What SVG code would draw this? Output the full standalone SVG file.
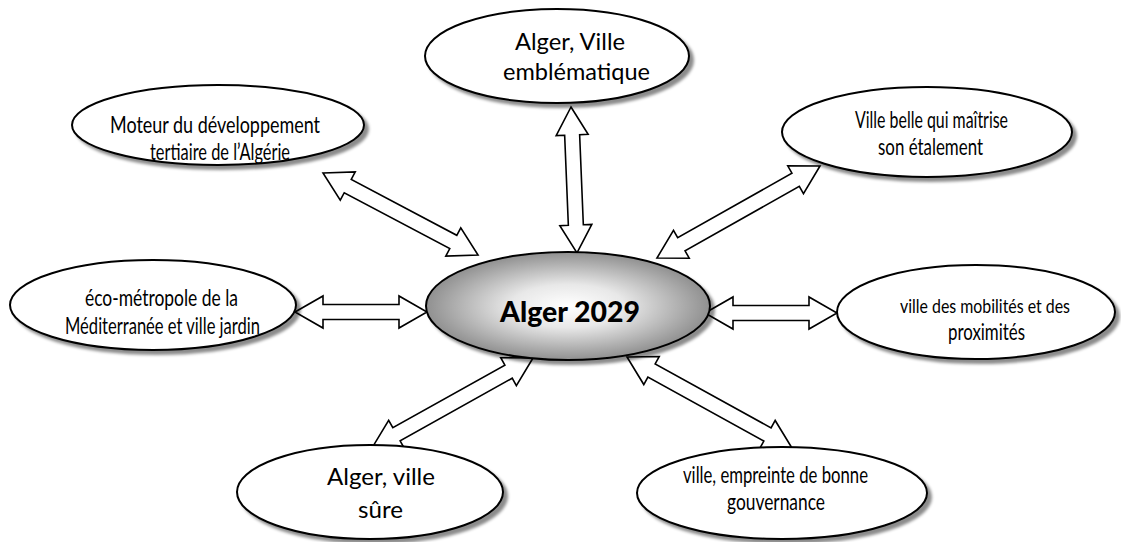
<svg xmlns="http://www.w3.org/2000/svg" width="1121" height="542" viewBox="0 0 1121 542">
<defs>
<style>
.node{fill:#fff;stroke:#000;stroke-width:2;filter:url(#sh)}
.arr{fill:#fff;stroke:#000;stroke-width:1.6;stroke-linejoin:miter}
text{text-anchor:middle;fill:#000;font-family:Lato,"Liberation Sans",sans-serif}
.t{font-size:23.5px}
.big{font-size:23px}
.ctr{font-size:29px;font-weight:900}
</style>
<filter id="sh" x="-10%" y="-10%" width="125%" height="130%">
<feDropShadow dx="4" dy="4" stdDeviation="1.5" flood-color="#000" flood-opacity="0.45"/>
</filter>
<radialGradient id="g" cx="50%" cy="50%" r="50%">
<stop offset="0" stop-color="#ffffff"/>
<stop offset="0.4" stop-color="#e8e8e8"/>
<stop offset="1" stop-color="#909090"/>
</radialGradient>
</defs>
<rect width="1121" height="542" fill="#fff"/>
<g id="connectors">
<polygon class="arr" transform="translate(571,107) rotate(87.65)" points="0,0 28,-16 28,-7.5 118.1,-7.5 118.1,-16 146.1,0 118.1,16 118.1,7.5 28,7.5 28,16"/>
<polygon class="arr" transform="translate(323,173) rotate(27.88)" points="0,0 28,-16 28,-7.5 147.4,-7.5 147.4,-16 175.4,0 147.4,16 147.4,7.5 28,7.5 28,16"/>
<polygon class="arr" transform="translate(820,166) rotate(150.56)" points="0,0 28,-16 28,-7.5 159.2,-7.5 159.2,-16 187.2,0 159.2,16 159.2,7.5 28,7.5 28,16"/>
<polygon class="arr" transform="translate(295,312)" points="0,0 28,-16 28,-7.5 104,-7.5 104,-16 132,0 104,16 104,7.5 28,7.5 28,16"/>
<polygon class="arr" transform="translate(705,313)" points="0,0 28,-16 28,-7.5 104,-7.5 104,-16 132,0 104,16 104,7.5 28,7.5 28,16"/>
<polygon class="arr" transform="translate(533,358) rotate(150.8)" points="0,0 28,-16 28,-7.5 156.4,-7.5 156.4,-16 184.4,0 156.4,16 156.4,7.5 28,7.5 28,16"/>
<polygon class="arr" transform="translate(627,357) rotate(28.88)" points="0,0 28,-16 28,-7.5 160.4,-7.5 160.4,-16 188.4,0 160.4,16 160.4,7.5 28,7.5 28,16"/>
</g>
<g id="center">
<ellipse cx="568" cy="306" rx="142" ry="54" fill="url(#g)" stroke="#000" stroke-width="2" filter="url(#sh)"/>
<text class="ctr" x="570" y="322" textLength="140" lengthAdjust="spacingAndGlyphs">Alger 2029</text>
</g>
<g id="n-top">
<ellipse class="node" cx="557" cy="56" rx="132" ry="47"/>
<text class="big" x="570" y="50" textLength="110" lengthAdjust="spacingAndGlyphs">Alger, Ville</text>
<text class="big" x="576.5" y="80" textLength="147" lengthAdjust="spacingAndGlyphs">emblématique</text>
</g>
<g id="n-topleft">
<ellipse class="node" cx="218" cy="125" rx="146" ry="40"/>
<text class="t" x="215" y="133" textLength="210" lengthAdjust="spacingAndGlyphs">Moteur du développement</text>
<text class="t" x="220" y="160" textLength="140" lengthAdjust="spacingAndGlyphs">tertiaire de l’Algérie</text>
</g>
<g id="n-topright">
<ellipse class="node" cx="927" cy="132" rx="145" ry="45"/>
<text class="t" x="931.5" y="128" textLength="153" lengthAdjust="spacingAndGlyphs">Ville belle qui maîtrise</text>
<text class="t" x="930.5" y="155" textLength="105" lengthAdjust="spacingAndGlyphs">son étalement</text>
</g>
<g id="n-left">
<ellipse class="node" cx="153" cy="305" rx="143" ry="45"/>
<text class="t" x="161.5" y="306" textLength="153" lengthAdjust="spacingAndGlyphs">éco-métropole de la</text>
<text class="t" x="162.5" y="334" textLength="195" lengthAdjust="spacingAndGlyphs">Méditerranée et ville jardin</text>
</g>
<g id="n-right">
<ellipse class="node" cx="976" cy="312" rx="139" ry="47"/>
<text x="985" y="313" font-size="19" textLength="170" lengthAdjust="spacingAndGlyphs">ville des mobilités et des</text>
<text class="t" x="986.5" y="340" textLength="77" lengthAdjust="spacingAndGlyphs">proximités</text>
</g>
<g id="n-bottomleft">
<ellipse class="node" cx="370" cy="492" rx="133" ry="47"/>
<text class="big" x="381" y="485" textLength="108" lengthAdjust="spacingAndGlyphs">Alger, ville</text>
<text class="big" x="380.5" y="518" textLength="45" lengthAdjust="spacingAndGlyphs">sûre</text>
</g>
<g id="n-bottomright">
<ellipse class="node" cx="782" cy="493" rx="145" ry="46"/>
<text class="t" x="775.5" y="483" textLength="185" lengthAdjust="spacingAndGlyphs">ville, empreinte de bonne</text>
<text class="t" x="776" y="510" textLength="98" lengthAdjust="spacingAndGlyphs">gouvernance</text>
</g>
</svg>
